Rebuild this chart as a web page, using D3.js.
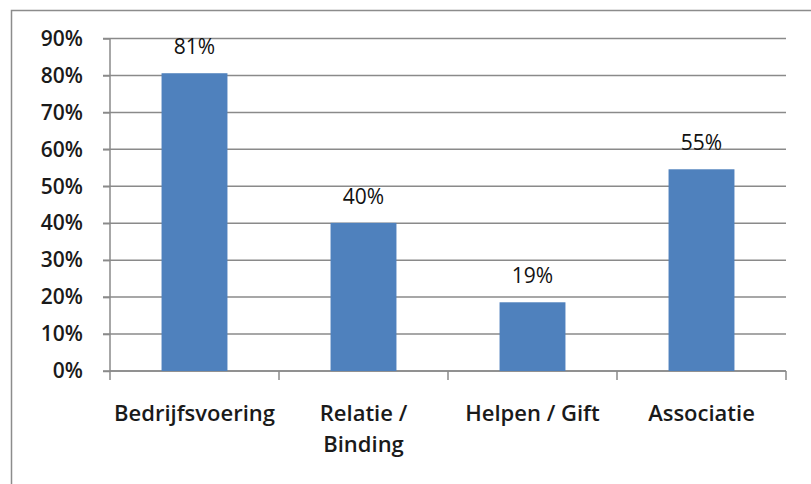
<!DOCTYPE html>
<html>
<head>
<meta charset="utf-8">
<script src="https://cdn.jsdelivr.net/npm/d3@7"></script>
<style>
  body { margin: 0; background: #fff; }
  svg { display: block; }
</style>
</head>
<body>
<div id="chart"></div>
<script>
const categories = ['Bedrijfsvoering', 'Relatie / Binding', 'Helpen / Gift', 'Associatie'];
const values = [0.806, 0.401, 0.186, 0.546];
const yTicks = [0, 0.1, 0.2, 0.3, 0.4, 0.5, 0.6, 0.7, 0.8, 0.9];

const dims = {width: 811, height: 484};
const margin = {left: 110, right: 25, top: 38.5, bottom: 113};

const svg = d3.select('#chart')
    .append('svg')
    .attr('width', dims.width)
    .attr('height', dims.height);

// chart area border
svg.append('rect')
    .attr('x', 11.5).attr('y', 10.5)
    .attr('width', 820).attr('height', 500)
    .attr('fill', '#fff')
    .attr('stroke', '#8c8c8c')
    .attr('stroke-width', 1.5);

const x = d3.scaleBand()
    .domain(categories)
    .range([margin.left, dims.width - margin.right])
    .paddingInner(0.61)
    .paddingOuter(0.305);

const y = d3.scaleLinear()
    .domain([0, 0.9])
    .range([371, margin.top]);

const pct = d3.format('.0%');
const font = '"Open Sans", sans-serif';

// gridlines
svg.append('g')
    .selectAll('line')
    .data(yTicks)
    .enter()
    .append('line')
        .attr('x1', margin.left - 7)
        .attr('x2', dims.width - margin.right)
        .attr('y1', d => y(d))
        .attr('y2', d => y(d))
        .attr('stroke', '#8a8a8a')
        .attr('stroke-width', 1.5);

// y axis
const yAxis = d3.axisLeft(y)
    .tickValues(yTicks)
    .tickFormat(pct)
    .tickSize(7)
    .tickPadding(20);

const yg = svg.append('g')
    .attr('transform', `translate(${margin.left}, 0)`)
    .call(yAxis);
yg.selectAll('line, path').attr('stroke', '#8a8a8a').attr('stroke-width', 1.5);
yg.select('.domain').attr('d', `M0,${y(0.9)}V${y(0)}`);
yg.selectAll('text')
    .attr('font-family', font)
    .attr('font-size', 21)
    .attr('font-weight', 600)
    .attr('fill', '#1a1a1a');

// x axis line and ticks between categories
const xEdges = categories.map(c => x(c) - x.step() * x.paddingInner() / 2).concat([dims.width - margin.right]);
xEdges[0] = margin.left;
svg.append('line')
    .attr('x1', margin.left).attr('x2', dims.width - margin.right)
    .attr('y1', y(0)).attr('y2', y(0))
    .attr('stroke', '#8a8a8a').attr('stroke-width', 1.5);
svg.append('g')
    .selectAll('line')
    .data(xEdges)
    .enter()
    .append('line')
        .attr('x1', d => d).attr('x2', d => d)
        .attr('y1', y(0)).attr('y2', y(0) + 9)
        .attr('stroke', '#8a8a8a').attr('stroke-width', 1.5);

// bars
const data = categories.map((c, i) => ({name: c, value: values[i]}));
svg.append('g')
    .selectAll('rect')
    .data(data)
    .enter()
    .append('rect')
        .attr('x', d => x(d.name))
        .attr('y', d => y(d.value))
        .attr('width', x.bandwidth())
        .attr('height', d => y(0) - y(d.value))
        .attr('fill', '#4f81bd');

// value labels
svg.append('g')
    .selectAll('text')
    .data(data)
    .enter()
    .append('text')
        .attr('x', d => x(d.name) + x.bandwidth() / 2)
        .attr('y', d => y(d.value) - 19)
        .attr('text-anchor', 'middle')
        .attr('font-family', font)
        .attr('font-size', 21)
        .attr('fill', '#111')
        .text(d => pct(d.value));

// category labels, wrapped where the original wraps
const catLines = {
    'Relatie / Binding': ['Relatie /', 'Binding']
};
const labels = svg.append('g')
    .selectAll('text')
    .data(data)
    .enter()
    .append('text')
        .attr('x', d => x(d.name) + x.bandwidth() / 2)
        .attr('y', 421)
        .attr('text-anchor', 'middle')
        .attr('font-family', font)
        .attr('font-size', 22)
        .attr('font-weight', 600)
        .attr('fill', '#1a1a1a');
labels.each(function(d) {
    const lines = catLines[d.name] || [d.name];
    const t = d3.select(this);
    lines.forEach((l, i) => {
        t.append('tspan')
            .attr('x', x(d.name) + x.bandwidth() / 2)
            .attr('dy', i === 0 ? 0 : 31)
            .text(l);
    });
});
</script>
</body>
</html>
